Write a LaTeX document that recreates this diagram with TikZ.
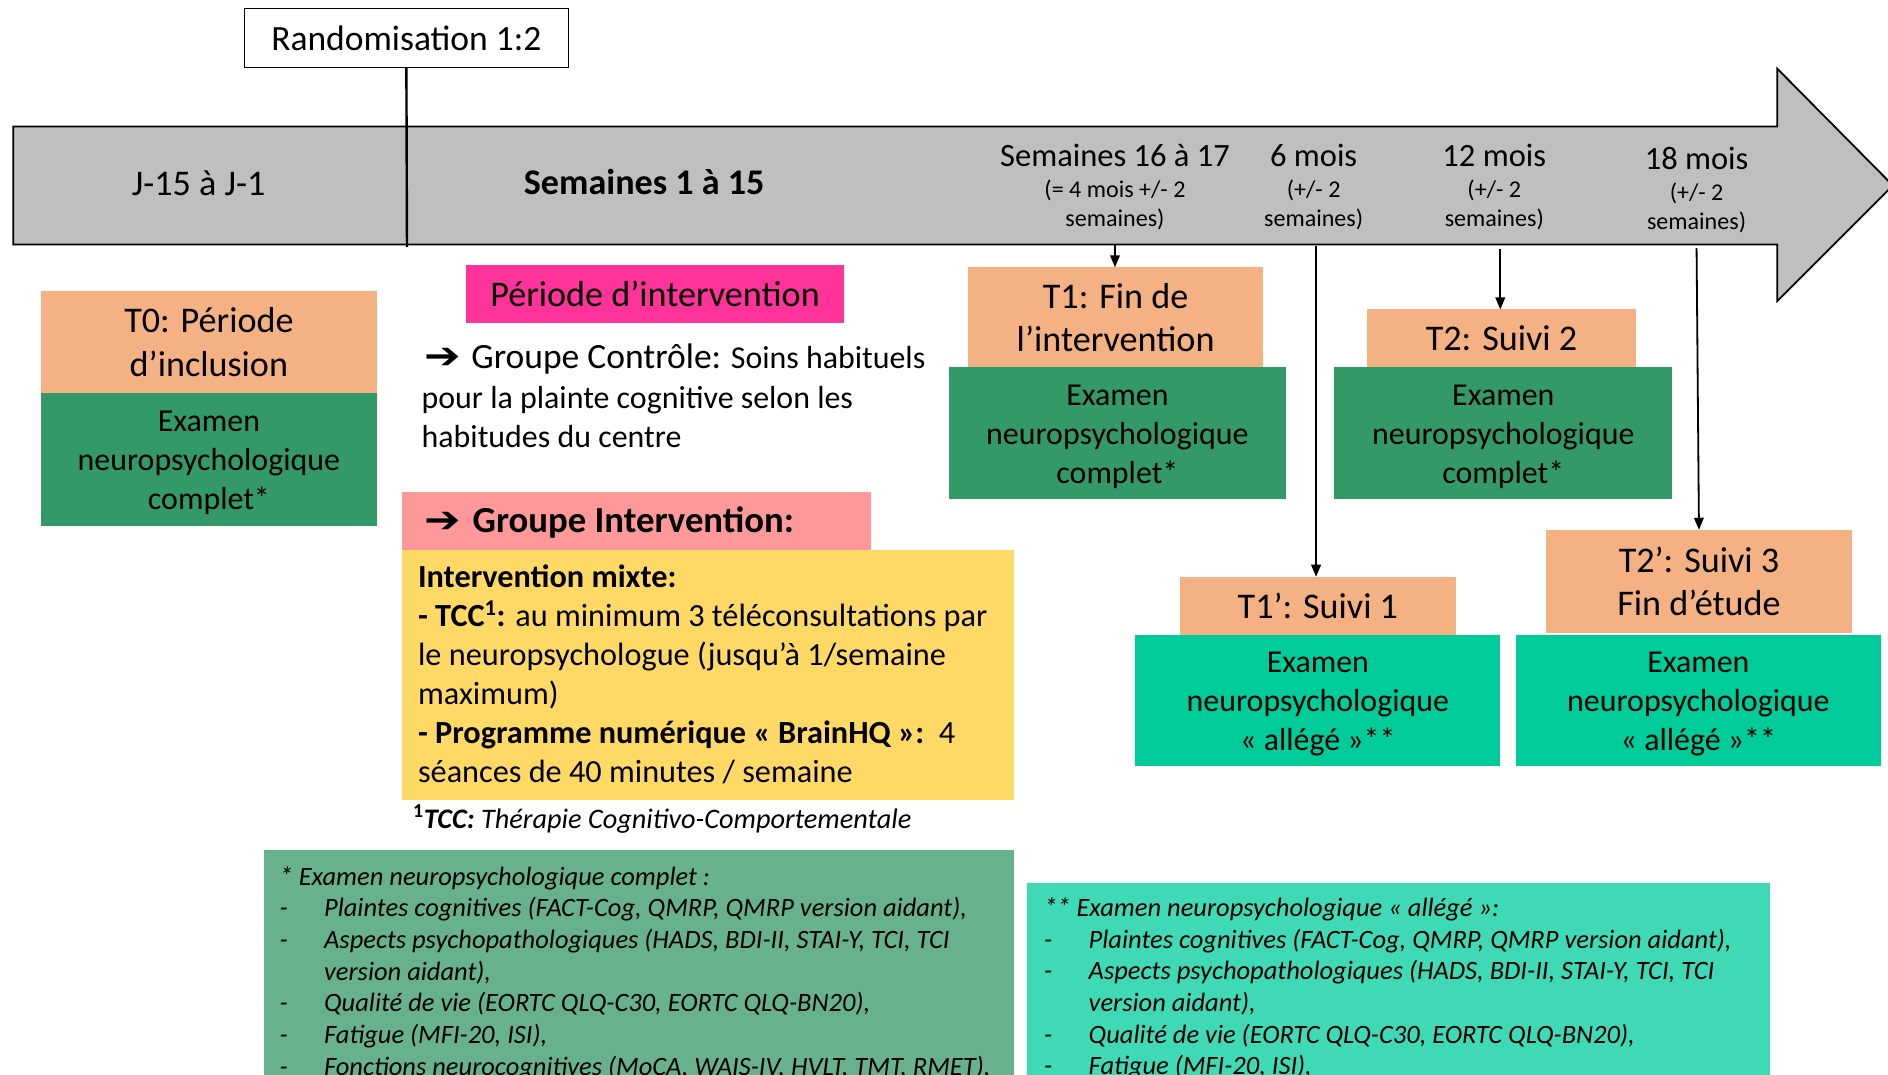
\documentclass[tikz,border=0pt]{standalone}
\usepackage{fontspec}
\usepackage{graphicx}
\setmainfont{Carlito}
\newfontfamily\dejavu{DejaVu Sans}
\usetikzlibrary{arrows.meta}
\definecolor{bandgray}{HTML}{BFBFBF}
\definecolor{orangeT}{HTML}{F4B183}
\definecolor{greenD}{HTML}{339966}
\definecolor{tealC}{HTML}{00CC99}
\definecolor{magentaP}{HTML}{FF3399}
\definecolor{salmonG}{HTML}{FF9999}
\definecolor{yellowI}{HTML}{FFD966}
\definecolor{legGreen}{HTML}{67B28C}
\definecolor{legTeal}{HTML}{40D9B5}
\newcommand\myarrow{{\dejavu\fontsize{29}{29}\selectfont\scalebox{1.25}[1.05]{➔}}}
\begin{document}
\begin{tikzpicture}[x=1pt,y=-1pt,
  fbox/.style={inner sep=0pt, outer sep=0pt, align=center, anchor=center},
  titlebox/.style={fbox, fill=orangeT, font=\fontsize{30}{36}\selectfont},
  exambox/.style={fbox},
  examtext/.style={inner sep=0pt, align=center, font=\fontsize{26.5}{32.3}\selectfont},
  heading/.style={align=center, inner sep=0pt, font=\fontsize{20}{24}\selectfont},
  arr/.style={line width=1.5pt, -{Triangle[length=10pt,width=8pt]}},
  txt/.style={inner sep=0pt, anchor=west, align=left}
]
\useasboundingbox (0,0) rectangle (1568,892);
\clip (0,0) rectangle (1568,892);

% timeline arrow
\draw[fill=bandgray, line width=1.5pt, line join=miter]
  (11,105) -- (1476,105) -- (1476,57) -- (1572,154) -- (1476,250) -- (1476,203) -- (11,203) -- cycle;

% randomisation
\node[fbox, draw=black, line width=1.2pt, fill=white, minimum width=269pt, minimum height=49pt,
  font=\fontsize{29.5}{35}\selectfont] (rando) at (337.5,31.5) {Randomisation 1:2};
\coordinate (randend) at (338,205);
\draw[line width=2pt] (rando.south) -- (randend);

% band labels
\node[inner sep=0pt, font=\fontsize{30}{36}\selectfont] (lblJ) at (165,152) {J-15 à J-1};
\node[inner sep=0pt, font=\fontsize{30}{36}\bfseries] (lblS) at (535,151) {Semaines 1 à 15};
\node[heading] (lbl16) at (926,155.5) {{\fontsize{27}{24}\selectfont Semaines 16 à 17}\\[2pt](= 4 mois +/- 2\\semaines)};
\node[heading] (lbl6) at (1091,155.5) {{\fontsize{27}{24}\selectfont 6 mois}\\[2pt](+/- 2\\semaines)};
\node[heading] (lbl12) at (1241,155.5) {{\fontsize{27}{24}\selectfont 12 mois}\\[2pt](+/- 2\\semaines)};
\node[heading] (lbl18) at (1409,157.5) {{\fontsize{27}{24}\selectfont 18 mois}\\[2pt](+/- 2\\semaines)};

% T0
\node[titlebox, minimum width=279pt, minimum height=84pt] (t0) at (173.5,284) {T0: Période\\d’inclusion};
\node[exambox, fill=greenD, minimum width=279pt, minimum height=111pt] (t0e) at (173.5,381.5) {};
\node[examtext] (t0et) at ([yshift=-3pt]t0e.center) {Examen\\neuropsychologique\\complet*};

% intervention period
\node[fbox, fill=magentaP, minimum width=314pt, minimum height=48pt, font=\fontsize{30}{36}\selectfont] (periode) at (544,244) {Période d’intervention};

\node[txt, font=\fontsize{26.5}{32.5}\selectfont] (ctrl) at (350,328.5)
  {\hspace*{2pt}\myarrow\hspace{9pt}{\fontsize{29.5}{32.5}\selectfont Groupe Contrôle:} Soins habituels\\[0.5pt]pour la plainte cognitive selon les\\habitudes du centre};

\node[fbox, fill=salmonG, minimum width=389pt, minimum height=48pt] (gi) at (528.5,433) {};
\node[txt, font=\fontsize{30.5}{35}\bfseries] (gitext) at (352,434) {\myarrow\hspace{10pt}Groupe Intervention:};

\node[fbox, fill=yellowI, minimum width=508pt, minimum height=207pt] (yel) at (588,560.5) {};
\node[txt, font=\fontsize{26.8}{32.4}\selectfont] (yeltext) at (347,560)
  {\textbf{Intervention mixte:}\\
   \textbf{- TCC\textsuperscript{1}:} au minimum 3 téléconsultations par\\
   le neuropsychologue (jusqu’à 1/semaine\\
   maximum)\\
   \textbf{- Programme numérique « BrainHQ »:}\ \ 4\\
   séances de 40 minutes / semaine};

\node[txt, font=\fontsize{23.5}{28}\selectfont] (foot) at (343,680)
  {\textsuperscript{\textbf{1}}\textbf{\textit{TCC:}} \textit{Thérapie Cognitivo-Comportementale}};

% T1
\node[titlebox, minimum width=245pt, minimum height=83pt] (t1) at (926.5,263.5) {T1: Fin de\\l’intervention};
\node[exambox, fill=greenD, minimum width=280pt, minimum height=109pt] (t1e) at (928,359.5) {};
\node[examtext] (t1et) at ([yshift=-3pt]t1e.center) {Examen\\neuropsychologique\\complet*};

% T2
\node[titlebox, minimum width=224pt, minimum height=48pt] (t2) at (1247,281) {T2: Suivi 2};
\node[exambox, fill=greenD, minimum width=281pt, minimum height=109pt] (t2e) at (1248.5,359.5) {};
\node[examtext] (t2et) at ([yshift=-3pt]t2e.center) {Examen\\neuropsychologique\\complet*};

% T1'
\node[titlebox, minimum width=229pt, minimum height=48pt] (t1p) at (1094.5,503) {T1’: Suivi 1};
\node[exambox, fill=tealC, minimum width=303pt, minimum height=109pt] (t1pe) at (1094.5,581.5) {};
\node[examtext] (t1pet) at ([yshift=-3pt]t1pe.center) {Examen\\neuropsychologique\\« allégé »**};

% T2'
\node[titlebox, minimum width=254pt, minimum height=86pt] (t2p) at (1411,483) {T2’: Suivi 3\\Fin d’étude};
\node[exambox, fill=tealC, minimum width=303pt, minimum height=109pt] (t2pe) at (1410.5,581.5) {};
\node[examtext] (t2pet) at ([yshift=-3pt]t2pe.center) {Examen\\neuropsychologique\\« allégé »**};

% connectors
\coordinate (c16) at (926,203);
\coordinate (c6) at (1093,204);
\coordinate (c12) at (1246,207);
\coordinate (c18) at (1409,206);
\draw[arr] (c16) -- (c16 |- t1.north);
\draw[arr] (c6) -- (c6 |- t1p.north);
\draw[arr] (c12) -- (c12 |- t2.north);
\draw[arr] (c18) -- (t2p.north);

% legends
\node[fbox, fill=legGreen, minimum width=623pt, minimum height=200pt] (legL) at (530.5,806) {};
\node[txt, font=\fontsize{22}{26.3}\itshape] (legLtext) at (232,808)
  {* Examen neuropsychologique complet :\\
   \makebox[37pt][l]{-}Plaintes cognitives (FACT-Cog, QMRP, QMRP version aidant),\\
   \makebox[37pt][l]{-}Aspects psychopathologiques (HADS, BDI-II, STAI-Y, TCI, TCI\\
   \hspace*{37pt}version aidant),\\
   \makebox[37pt][l]{-}Qualité de vie (EORTC QLQ-C30, EORTC QLQ-BN20),\\
   \makebox[37pt][l]{-}Fatigue (MFI-20, ISI),\\
   \makebox[37pt][l]{-}Fonctions neurocognitives (MoCA, WAIS-IV, HVLT, TMT, RMET),};

\node[fbox, fill=legTeal, minimum width=617pt, minimum height=173pt] (legR) at (1161.5,819.5) {};
\node[txt, font=\fontsize{22}{26.3}\itshape] (legRtext) at (867,821)
  {** Examen neuropsychologique « allégé »:\\
   \makebox[37pt][l]{-}Plaintes cognitives (FACT-Cog, QMRP, QMRP version aidant),\\
   \makebox[37pt][l]{-}Aspects psychopathologiques (HADS, BDI-II, STAI-Y, TCI, TCI\\
   \hspace*{37pt}version aidant),\\
   \makebox[37pt][l]{-}Qualité de vie (EORTC QLQ-C30, EORTC QLQ-BN20),\\
   \makebox[37pt][l]{-}Fatigue (MFI-20, ISI),};
\end{tikzpicture}
\end{document}
